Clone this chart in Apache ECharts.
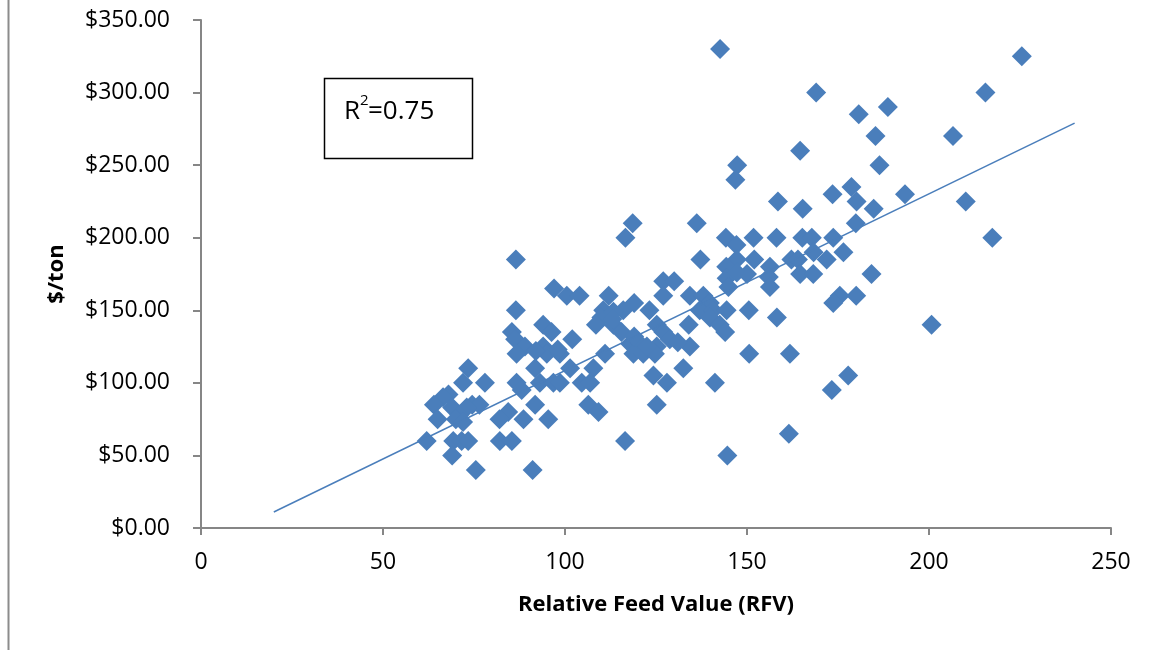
<!DOCTYPE html>
<html>
<head>
<meta charset="utf-8">
<script src="https://cdn.jsdelivr.net/npm/echarts@6/dist/echarts.min.js"></script>
<style>html,body{margin:0;padding:0;background:#fff}#c{width:1153px;height:650px}</style>
</head>
<body>
<div id="c"></div>
<script>
// Relative Feed Value (RFV) for each sample
const rfv = [
  142.6,225.5,169,215.5,188.7,180.7,185.3,206.6,164.6,147.3,186.4,146.8,178.7,193.4,173.5,210.1,158.5,180.1,165.3,184.8,
  136.2,118.6,179.9,217.4,116.6,144.2,151.8,158.1,165.2,167.8,173.7,147.1,176.5,168.3,137.2,147.2,152,162.2,164,171.9,
  86.5,144.3,156.3,144.4,147.2,150,156,164.6,168.2,184.2,144.9,156.3,127,130,97,100.5,104,112,127,134.3,
  138,175.5,180,173.7,119,139.8,86.5,110.5,116,123.2,137,140.7,144.4,150.5,158.2,139.8,110,94,108.5,113.3,
  125.2,134,142.5,200.7,85.4,96.3,115.5,127,144,86.3,102,128.8,94,125.2,134.3,117.9,120.6,89,86.7,95,
  98.6,111,118.8,121.5,124.7,150.6,161.8,73.4,91.8,101.4,107.8,132.5,124.3,177.8,72,78,86.7,93.1,96.8,98.6,
  104.6,106.9,128,141.2,88.1,173.3,68,66.5,64,74.5,76.5,91.8,106.4,125.2,69,73,84.4,109.2,71,65,
  70,72,82,88.6,95.4,161.5,62,69.3,71.6,73.4,82.1,85.4,116.5,69,144.6,75.5,91.1,
  122.5,131,119,92,98,113.3,113
];
// Price, $/ton
const price = [
  330,325,300,300,290,285,270,270,260,250,250,240,235,230,230,225,225,225,220,220,
  210,210,210,200,200,200,200,200,200,200,200,195,190,190,185,185,185,185,185,185,
  185,180,180,172,176,175,173,175,175,175,166,166,170,170,165,160,160,160,160,160,
  160,160,160,155,155,155,150,150,150,150,150,150,150,150,145,145,145,140,140,140,
  140,140,140,140,135,135,135,135,135,130,130,130,125,125,125,127,127,125,120,120,
  120,120,120,120,120,120,120,110,110,110,110,110,105,105,100,100,100,100,100,100,
  100,100,100,100,95,95,92,90,85,85,85,85,85,85,83,83,80,80,78,75,
  75,73,75,75,75,65,60,60,60,60,60,60,60,50,50,40,40,
  125,128,132,122,123,149,144
];
// Linear trend line end points
const trendX = [20, 240];
const trendY = [11, 279];
// Axis ticks
const xTicks = [0, 50, 100, 150, 200, 250];
const yTicks = [0, 50, 100, 150, 200, 250, 300, 350];

const pts = rfv.map((v, i) => [v, price[i]]);
const trend = trendX.map((v, i) => [v, trendY[i]]);

const FONT = '"Open Sans", "Liberation Sans", sans-serif';
const AX = '#868686';
const BLUE = '#4a7ebb';

const chart = echarts.init(document.getElementById('c'), null, {renderer: 'canvas'});
chart.setOption({
  animation: false,
  backgroundColor: '#ffffff',
  grid: {left: 201, right: 42, top: 20, bottom: 122, containLabel: false},
  xAxis: {
    type: 'value', min: xTicks[0], max: xTicks[xTicks.length - 1], interval: 50,
    name: 'Relative Feed Value (RFV)', nameLocation: 'middle', nameGap: 66,
    nameTextStyle: {fontFamily: FONT, fontWeight: 'bold', fontSize: 22, color: '#000'},
    axisLine: {show: true, lineStyle: {color: AX, width: 2}},
    axisTick: {show: true, length: 7, lineStyle: {color: AX, width: 2}},
    axisLabel: {fontFamily: FONT, fontSize: 23, color: '#000', margin: 23},
    splitLine: {show: false}
  },
  yAxis: {
    type: 'value', min: yTicks[0], max: yTicks[yTicks.length - 1], interval: 50,
    name: '$/ton', nameLocation: 'middle', nameGap: 133, nameRotate: 90,
    nameTextStyle: {fontFamily: FONT, fontWeight: 'bold', fontSize: 22, color: '#000'},
    axisLine: {show: true, lineStyle: {color: AX, width: 2}},
    axisTick: {show: true, length: 8, lineStyle: {color: AX, width: 2}},
    axisLabel: {fontFamily: FONT, fontSize: 23, color: '#000', margin: 31,
      formatter: v => '$' + v.toFixed(2)},
    splitLine: {show: false}
  },
  graphic: [
    {type: 'line', shape: {x1: 8.5, y1: 0, x2: 8.5, y2: 650}, style: {stroke: '#8c8c8c', lineWidth: 2}},
    {type: 'rect', shape: {x: 324.5, y: 78.5, width: 148, height: 80},
      style: {fill: '#fff', stroke: '#000', lineWidth: 1.5}, z: 10},
    {type: 'text', x: 344, y: 112, z: 11,
      style: {text: 'R', fontFamily: FONT, fontSize: 26, fill: '#000', verticalAlign: 'middle'}},
    {type: 'text', x: 360, y: 101, z: 11,
      style: {text: '2', fontFamily: FONT, fontSize: 15, fill: '#000', verticalAlign: 'middle'}},
    {type: 'text', x: 368, y: 112, z: 11,
      style: {text: '=0.75', fontFamily: FONT, fontSize: 26, fill: '#000', verticalAlign: 'middle'}}
  ],
  series: [
    {
      type: 'scatter', data: pts, symbol: 'diamond', symbolSize: 20,
      itemStyle: {color: BLUE, opacity: 1}, z: 2
    },
    {
      type: 'line', data: trend, symbol: 'none', silent: true,
      lineStyle: {color: BLUE, width: 1.5}, z: 3
    }
  ]
});
</script>
</body>
</html>
